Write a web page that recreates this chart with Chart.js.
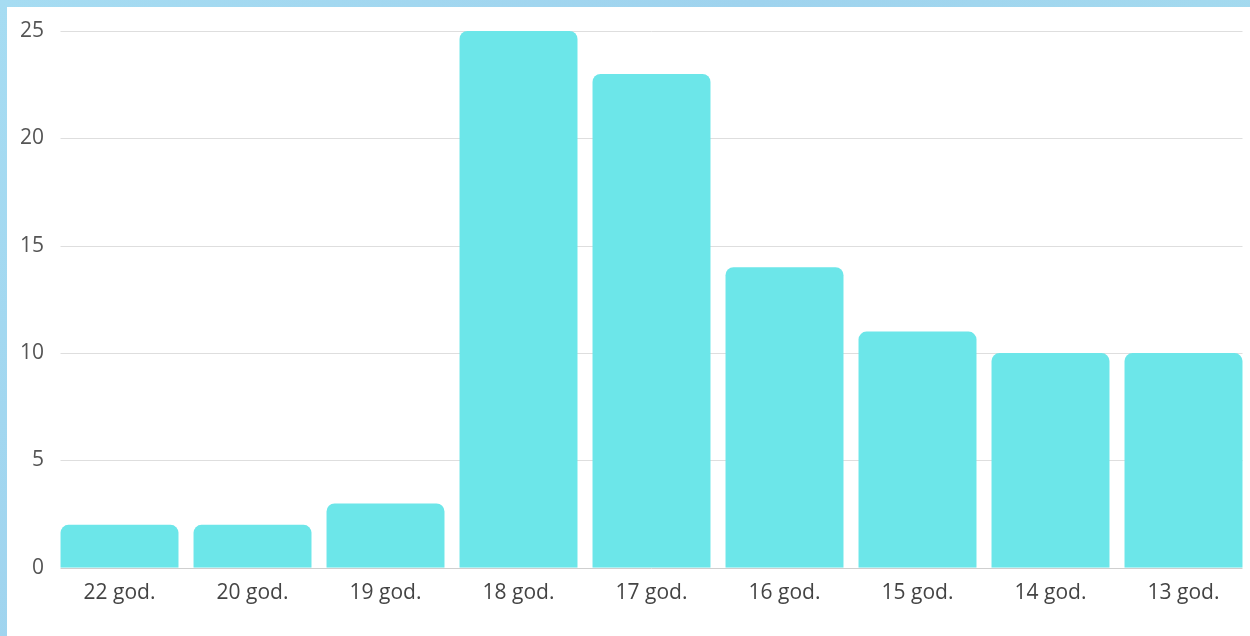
<!DOCTYPE html>
<html>
<head>
<meta charset="utf-8">
<script src="https://cdn.jsdelivr.net/npm/chart.js@4"></script>
<style>
    html, body { margin: 0; padding: 0; }
    body {
        width: 1250px; height: 636px; overflow: hidden;
        background: linear-gradient(135deg, #a6dcf2 0%, #9fd3ee 40%, #a9e2f0 100%);
        position: relative;
    }
    #panel {
        position: absolute; left: 7px; top: 7px;
        width: 1243px; height: 629px; background: #fff;
    }
</style>
</head>
<body>
<div id="panel"><canvas id="barchart" width="1243" height="629"></canvas></div>
<script>
// chart values
const categories = ['22 god.', '20 god.', '19 god.', '18 god.', '17 god.', '16 god.', '15 god.', '14 god.', '13 god.'];
const counts = [2, 2, 3, 25, 23, 14, 11, 10, 10];
const yTicks = [0, 5, 10, 15, 20, 25];

// grid lines only span from first bar to last bar
const gridPlugin = {
    id: 'barGrid',
    beforeDatasetsDraw: function(chart) {
        const ctx = chart.ctx;
        const meta = chart.getDatasetMeta(0);
        const first = meta.data[0], last = meta.data[meta.data.length - 1];
        const x0 = first.x - first.width / 2;
        const x1 = last.x + last.width / 2;
        ctx.save();
        ctx.lineWidth = 1;
        yTicks.forEach(function(v) {
            const y = Math.round(chart.scales.y.getPixelForValue(v)) + 0.5;
            ctx.strokeStyle = v === 0 ? '#cfcfcf' : '#dedede';
            ctx.beginPath();
            ctx.moveTo(x0, y);
            ctx.lineTo(x1, y);
            ctx.stroke();
        });
        ctx.restore();
    }
};

const config = {
    type: 'bar',
    data: {
        labels: categories,
        datasets: [{
            data: counts,
            backgroundColor: '#6ce6e9',
            borderRadius: { topLeft: 8, topRight: 8, bottomLeft: 0, bottomRight: 0 },
            borderSkipped: 'bottom',
            categoryPercentage: 1,
            barPercentage: 0.887
        }]
    },
    options: {
        responsive: false,
        animation: false,
        layout: { padding: { left: 4, right: 0, top: 24, bottom: 17 } },
        plugins: {
            legend: { display: false },
            tooltip: { enabled: false }
        },
        scales: {
            x: {
                grid: { display: false, drawTicks: false },
                border: { display: false },
                ticks: {
                    color: '#444',
                    font: { family: 'Open Sans', size: 21 },
                    padding: 13,
                    maxRotation: 0
                }
            },
            y: {
                min: 0,
                max: 25,
                afterBuildTicks: function(axis) {
                    axis.ticks = yTicks.map(function(v) { return { value: v }; });
                },
                grid: { display: false, drawTicks: false },
                border: { display: false },
                ticks: {
                    color: '#555',
                    font: { family: 'Open Sans', size: 21 },
                    padding: 9
                }
            }
        }
    },
    plugins: [gridPlugin]
};

new Chart(document.getElementById('barchart'), config);
</script>
</body>
</html>
